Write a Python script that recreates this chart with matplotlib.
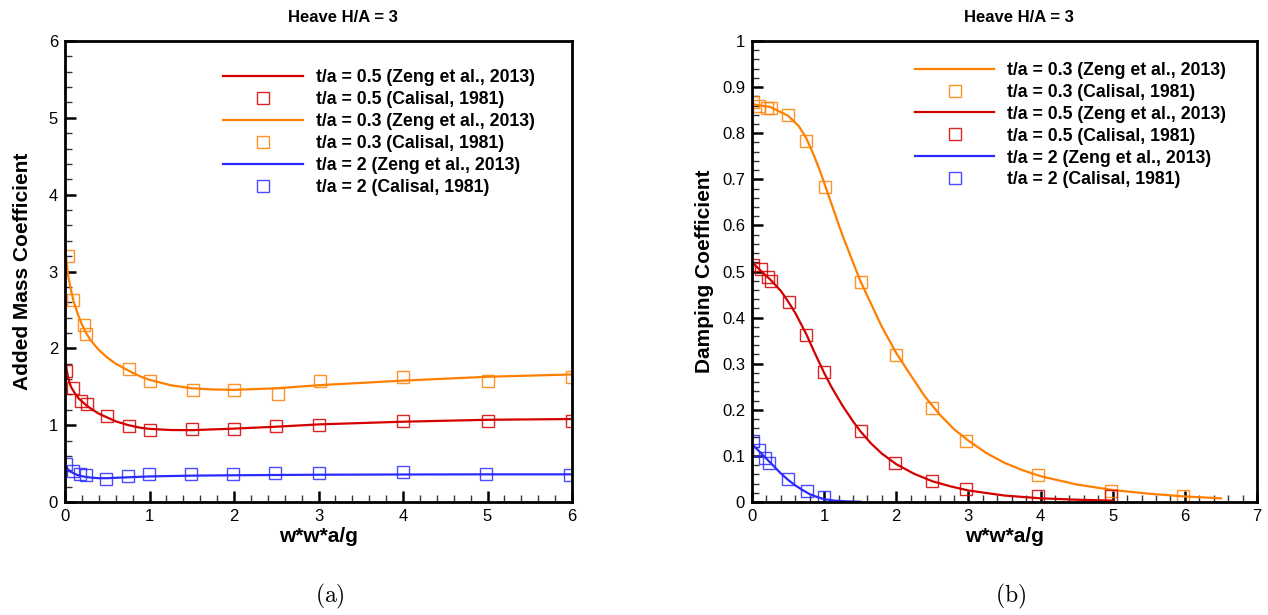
import numpy as np
import matplotlib.pyplot as plt

plt.rcParams['font.family'] = ['Liberation Sans', 'DejaVu Sans']
plt.rcParams['mathtext.fontset'] = 'cm'

RED = '#d40000'
ORANGE = '#ff8000'
BLUE = '#2b2bff'

# ---- (a) added mass, curves (Zeng et al., 2013)
am_x_05 = [0, 0.01, 0.02, 0.04, 0.06, 0.08, 0.12, 0.16, 0.2, 0.25, 0.3, 0.4, 0.5, 0.6, 0.75, 0.9, 1.0, 1.25, 1.5, 2.0, 2.5, 3.0, 4.0, 5.0, 6.0]
am_y_05 = [2.0, 1.82, 1.72, 1.6, 1.53, 1.48, 1.41, 1.35, 1.31, 1.26, 1.22, 1.15, 1.1, 1.05, 1.0, 0.965, 0.952, 0.937, 0.935, 0.955, 0.98, 1.01, 1.045, 1.07, 1.08]
am_x_03 = [0, 0.02, 0.04, 0.07, 0.1, 0.15, 0.2, 0.25, 0.3, 0.4, 0.5, 0.6, 0.75, 0.9, 1.0, 1.25, 1.5, 1.75, 2.0, 2.5, 3.0, 3.5, 4.0, 5.0, 6.0]
am_y_03 = [3.35, 3.1, 2.93, 2.76, 2.62, 2.45, 2.31, 2.2, 2.11, 1.98, 1.88, 1.8, 1.71, 1.63, 1.59, 1.52, 1.48, 1.465, 1.46, 1.48, 1.52, 1.55, 1.58, 1.63, 1.66]
am_x_2 = [0, 0.03, 0.06, 0.1, 0.15, 0.2, 0.3, 0.4, 0.5, 0.75, 1.0, 1.5, 2.0, 3.0, 4.0, 5.0, 6.0]
am_y_2 = [0.47, 0.43, 0.4, 0.375, 0.35, 0.335, 0.318, 0.31, 0.31, 0.322, 0.333, 0.343, 0.348, 0.355, 0.358, 0.36, 0.36]

# ---- (a) added mass, experiment (Calisal, 1981)
amc_x_05 = [0.01, 0.09, 0.19, 0.26, 0.5, 0.76, 1.0, 1.5, 2.0, 2.5, 3.0, 4.0, 5.0, 6.0]
amc_y_05 = [1.71, 1.48, 1.31, 1.28, 1.12, 0.99, 0.935, 0.95, 0.95, 0.99, 1.0, 1.05, 1.06, 1.05]
amc_x_03 = [0.04, 0.1, 0.22, 0.25, 0.76, 1.01, 1.52, 2.0, 2.52, 3.02, 4.0, 5.0, 6.0]
amc_y_03 = [3.2, 2.63, 2.31, 2.19, 1.73, 1.57, 1.46, 1.46, 1.40, 1.57, 1.63, 1.57, 1.63]
amc_x_2 = [0.01, 0.09, 0.18, 0.25, 0.49, 0.74, 0.99, 1.49, 1.99, 2.49, 3.0, 4.0, 4.98, 5.98]
amc_y_2 = [0.49, 0.40, 0.36, 0.35, 0.30, 0.34, 0.36, 0.36, 0.37, 0.375, 0.375, 0.395, 0.37, 0.35]

# ---- (b) damping, curves
dp_x_03 = [0, 0.25, 0.5, 0.65, 0.75, 0.85, 0.95, 1.05, 1.15, 1.25, 1.4, 1.5, 1.65, 1.8, 2.0, 2.2, 2.4, 2.6, 2.8, 3.0, 3.25, 3.5, 3.75, 4.0, 4.5, 5.0, 5.5, 6.0, 6.5]
dp_y_03 = [0.863, 0.857, 0.838, 0.815, 0.79, 0.755, 0.715, 0.67, 0.625, 0.58, 0.52, 0.48, 0.43, 0.38, 0.323, 0.275, 0.228, 0.19, 0.158, 0.133, 0.106, 0.085, 0.069, 0.056, 0.038, 0.026, 0.018, 0.012, 0.008]
dp_x_05 = [0, 0.1, 0.25, 0.4, 0.5, 0.6, 0.75, 0.85, 1.0, 1.1, 1.25, 1.4, 1.5, 1.65, 1.8, 2.0, 2.25, 2.5, 2.75, 3.0, 3.5, 4.0, 4.5, 5.0]
dp_y_05 = [0.52, 0.505, 0.483, 0.458, 0.435, 0.41, 0.365, 0.33, 0.28, 0.25, 0.21, 0.175, 0.154, 0.127, 0.105, 0.082, 0.061, 0.045, 0.034, 0.025, 0.014, 0.008, 0.005, 0.003]
dp_x_2 = [0, 0.1, 0.2, 0.3, 0.4, 0.5, 0.6, 0.7, 0.8, 0.9, 1.0, 1.15, 1.3, 1.5]
dp_y_2 = [0.125, 0.11, 0.094, 0.078, 0.062, 0.048, 0.036, 0.026, 0.017, 0.011, 0.006, 0.003, 0.0015, 0.0005]

# ---- (b) damping, experiment
dpc_x_03 = [0.02, 0.1, 0.21, 0.26, 0.5, 0.75, 1.01, 1.51, 2.0, 2.49, 2.97, 3.97, 4.97, 5.98]
dpc_y_03 = [0.867, 0.860, 0.855, 0.855, 0.840, 0.783, 0.684, 0.478, 0.318, 0.204, 0.132, 0.058, 0.023, 0.014]
dpc_x_05 = [0.02, 0.12, 0.22, 0.26, 0.51, 0.75, 1.0, 1.51, 1.98, 2.49, 2.97, 3.97, 4.98]
dpc_y_05 = [0.514, 0.506, 0.488, 0.479, 0.433, 0.363, 0.281, 0.155, 0.085, 0.045, 0.029, 0.014, 0.012]
dpc_x_2 = [0.02, 0.1, 0.18, 0.23, 0.5, 0.76, 1.0]
dpc_y_2 = [0.132, 0.113, 0.095, 0.085, 0.049, 0.023, 0.010]

fig = plt.figure(figsize=(12.68, 6.15), dpi=100)
ax1 = fig.add_axes([65/1268, 113/615, 507/1268, 461/615])
ax2 = fig.add_axes([752/1268, 113/615, 505/1268, 461/615])

mk = dict(ls='none', marker='s', ms=8.4, mfc='none', mew=1.0, alpha=0.85)
lw = 1.6

ax1.plot(am_x_05, am_y_05, color=RED, lw=lw, label='t/a = 0.5 (Zeng et al., 2013)')
ax1.plot(amc_x_05, amc_y_05, color=RED, label='t/a = 0.5 (Calisal, 1981)', **mk)
ax1.plot(am_x_03, am_y_03, color=ORANGE, lw=lw, label='t/a = 0.3 (Zeng et al., 2013)')
ax1.plot(amc_x_03, amc_y_03, color=ORANGE, label='t/a = 0.3 (Calisal, 1981)', **mk)
ax1.plot(am_x_2, am_y_2, color=BLUE, lw=lw, label='t/a = 2 (Zeng et al., 2013)')
ax1.plot(amc_x_2, amc_y_2, color=BLUE, label='t/a = 2 (Calisal, 1981)', **mk)

ax2.plot(dp_x_03, dp_y_03, color=ORANGE, lw=lw, label='t/a = 0.3 (Zeng et al., 2013)')
ax2.plot(dpc_x_03, dpc_y_03, color=ORANGE, label='t/a = 0.3 (Calisal, 1981)', **mk)
ax2.plot(dp_x_05, dp_y_05, color=RED, lw=lw, label='t/a = 0.5 (Zeng et al., 2013)')
ax2.plot(dpc_x_05, dpc_y_05, color=RED, label='t/a = 0.5 (Calisal, 1981)', **mk)
ax2.plot(dp_x_2, dp_y_2, color=BLUE, lw=lw, label='t/a = 2 (Zeng et al., 2013)')
ax2.plot(dpc_x_2, dpc_y_2, color=BLUE, label='t/a = 2 (Calisal, 1981)', **mk)

ax1.set_xlim(0, 6)
ax1.set_ylim(0, 6)
ax1.set_xticks(np.arange(0, 7, 1))
ax1.set_xticks(np.arange(0, 6.01, 0.2), minor=True)
ax1.set_yticks(np.arange(0, 7, 1))
ax1.set_yticks(np.arange(0, 6.01, 0.2), minor=True)

ax2.set_xlim(0, 7)
ax2.set_ylim(0, 1)
ax2.set_xticks(np.arange(0, 8, 1))
ax2.set_xticks(np.arange(0, 7.01, 0.2), minor=True)
ax2.set_yticks(np.arange(0, 1.01, 0.1))
ax2.set_yticks(np.arange(0, 1.001, 0.02), minor=True)
ax2.set_yticklabels(['0'] + ['%.1f' % v for v in np.arange(0.1, 1.0, 0.1)] + ['1'])

for ax in (ax1, ax2):
    for s in ax.spines.values():
        s.set_linewidth(2.0)
    ax.tick_params(which='major', direction='in', length=8, width=1.8, labelsize=12, pad=5,
                   top=False, right=False)
    ax.tick_params(which='minor', direction='in', length=5, width=1.0, color='#333333',
                   top=False, right=False)
    ax.set_xlabel('w*w*a/g', fontsize=15, fontweight='bold', labelpad=2)

ax1.set_ylabel('Added Mass Coefficient', fontsize=15, fontweight='bold', labelpad=12)
ax2.set_ylabel('Damping Coefficient', fontsize=15, fontweight='bold', labelpad=6)

leg_kw = dict(loc='upper left', frameon=False, borderpad=0, borderaxespad=0,
              handlelength=4.5, handletextpad=0.75, labelspacing=0.28, markerscale=1.1,
              prop={'weight': 'bold', 'size': 12.7})
ax1.legend(bbox_to_anchor=(0.312, 0.939), **leg_kw)
ax2.legend(bbox_to_anchor=(0.3225, 0.955), **leg_kw)

fig.text(343/1268, 1 - 18/615, 'Heave H/A = 3', ha='center', va='center', fontsize=12, fontweight='bold')
fig.text(1019/1268, 1 - 18/615, 'Heave H/A = 3', ha='center', va='center', fontsize=12, fontweight='bold')
fig.text(330/1268, 1 - 596/615, r'$\mathrm{(a)}$', ha='center', va='center', fontsize=17)
fig.text(1011/1268, 1 - 596/615, r'$\mathrm{(b)}$', ha='center', va='center', fontsize=17)

fig.savefig('out.png', dpi=100)
